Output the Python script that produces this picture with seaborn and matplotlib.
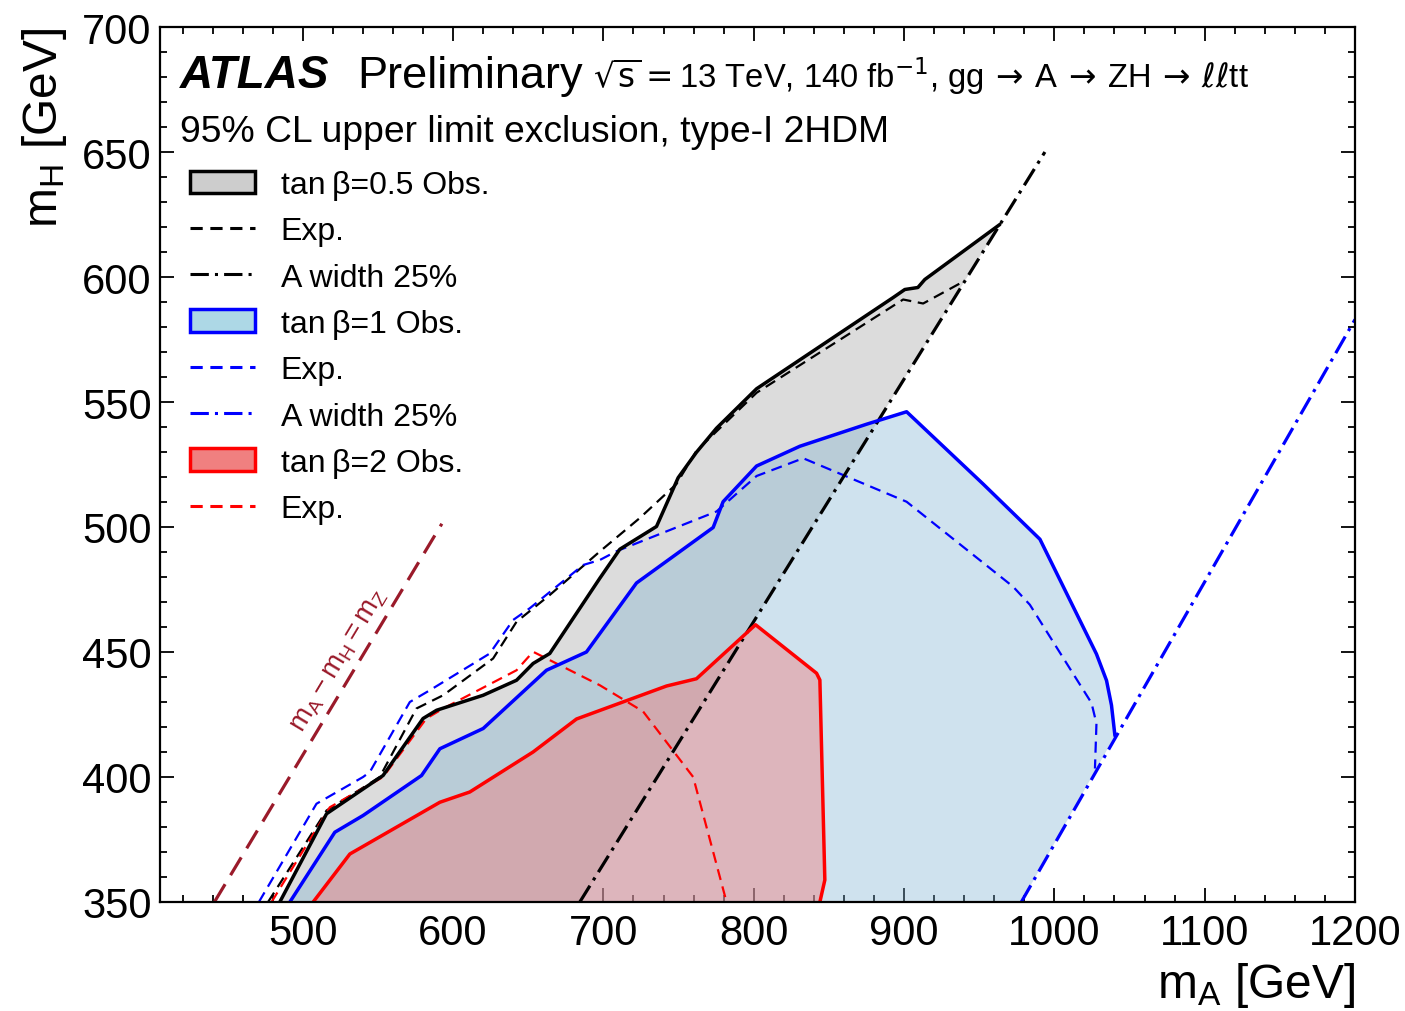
import matplotlib
matplotlib.use("Agg")
import matplotlib.pyplot as plt
import seaborn as sns
from matplotlib.lines import Line2D
from matplotlib.patches import Patch
from matplotlib.ticker import MultipleLocator

# tan(beta)=0.5 : observed upper edge and expected
obs05_mA = [484.7, 515.8, 553.4, 580.0, 589.0, 620.0, 642.2, 653.2, 664.3, 697.6, 710.9, 735.3,
            749.7, 761.9, 775.2, 801.9, 892.8, 900.5, 909.2, 913.8, 963.7]
obs05_mH = [350.0, 385.3, 400.6, 423.4, 426.7, 432.7, 438.7, 445.4, 449.4, 479.5, 491.1, 500.2,
            519.7, 529.9, 539.5, 555.3, 591.8, 595.0, 595.8, 599.0, 621.0]
exp05_mA = [476.9, 515.8, 542.4, 551.2, 575.6, 593.4, 626.6, 642.2, 664.3, 697.6, 724.2, 748.6,
            761.9, 801.9, 899.4, 912.7, 937.1]
exp05_mH = [350.0, 386.6, 396.6, 400.0, 427.4, 432.7, 447.4, 462.1, 472.8, 490.2, 503.6, 517.2,
            530.5, 553.7, 591.0, 589.4, 597.4]
width05_mA = [684.3, 993.7]
width05_mH = [350.0, 650.0]

# tan(beta)=1
obs1_mA = [491.4, 521.3, 540.1, 579.0, 591.2, 620.0, 662.1, 688.7, 722.0, 773.0, 779.6, 801.9,
           830.7, 875.0, 901.7, 952.6, 990.4, 1028.0, 1034.7, 1038.0, 1040.3]
obs1_mH = [350.0, 377.9, 384.6, 400.6, 411.3, 419.4, 442.7, 450.0, 477.6, 499.8, 510.1, 524.4,
           532.3, 541.1, 546.1, 517.2, 495.1, 449.2, 438.6, 428.7, 416.5]
exp1_mA = [470.8, 509.1, 540.1, 544.6, 571.2, 584.5, 624.4, 639.9, 651.0, 686.5, 697.6, 708.7,
           775.2, 801.9, 832.9, 901.7, 972.6, 983.7, 1024.7, 1028.0, 1027.0]
exp1_mH = [350.0, 389.3, 400.0, 402.0, 430.0, 434.7, 449.4, 462.8, 467.5, 484.8, 486.8, 490.3,
           506.2, 520.4, 527.5, 510.1, 476.1, 468.9, 429.6, 421.4, 403.4]
width1_mA = [978.0, 1200.0]
width1_mH = [350.0, 583.0]

# tan(beta)=2
obs2_mA = [506.9, 531.3, 591.2, 611.1, 653.2, 682.1, 742.0, 761.9, 801.2, 841.8, 844.0, 847.3, 844.0]
obs2_mH = [350.0, 369.2, 389.9, 394.0, 410.0, 423.2, 436.4, 439.3, 460.9, 441.5, 438.8, 358.8, 350.0]
exp2_mA = [479.2, 518.0, 553.4, 582.2, 593.4, 642.2, 653.2, 697.6, 726.4, 759.7, 781.9]
exp2_mH = [350.0, 387.9, 400.0, 423.4, 427.4, 442.7, 450.1, 436.7, 426.2, 400.0, 350.0]

# kinematic line mA - mH = mZ
mz_mA = [441.2, 592.5]
mz_mH = [350.0, 501.3]

legend_labels = ["tan\u2009β=0.5 Obs.", "Exp.", "A width 25%",
                 "tan\u2009β=1 Obs.", "Exp.", "A width 25%",
                 "tan\u2009β=2 Obs.", "Exp."]

sns.set_theme(style="ticks")
plt.rcParams["font.family"] = ["Liberation Sans", "DejaVu Sans"]
plt.rcParams["mathtext.fontset"] = "custom"
plt.rcParams["mathtext.rm"] = "Liberation Sans"
plt.rcParams["mathtext.it"] = "Liberation Sans:italic"
plt.rcParams["mathtext.bf"] = "Liberation Sans:bold"
plt.rcParams["text.color"] = "black"
plt.rcParams["axes.labelcolor"] = "black"
plt.rcParams["xtick.color"] = "black"
plt.rcParams["ytick.color"] = "black"

maroon = "#9a1a2a"
dashdot = (0, (6, 2, 1, 2))
fill_gray = "#dcdcdc"
fill_blue = "#7db1d1"
fill_red = "lightcoral"

fig = plt.figure(figsize=(14.05, 10.12), dpi=100)
ax = fig.add_axes([0.11388, 0.10771, 0.85053, 0.86462])

# filled exclusion regions
ax.fill(obs05_mA + [width05_mA[0]], obs05_mH + [width05_mH[0]],
        color=fill_gray, lw=0, zorder=1)
ax.fill(obs1_mA + [width1_mA[0]], obs1_mH + [width1_mH[0]],
        color=fill_blue, alpha=0.37, lw=0, zorder=1)
ax.fill(obs2_mA, obs2_mH, color=fill_red, alpha=0.45, lw=0, zorder=1)

sns.lineplot(x=mz_mA, y=mz_mH, sort=False, estimator=None, color=maroon, lw=2.3,
             linestyle=(0, (6.5, 3.3)), ax=ax)

sns.lineplot(x=exp05_mA, y=exp05_mH, sort=False, estimator=None, color="black", lw=1.6,
             linestyle=(0, (5, 3)), ax=ax)
sns.lineplot(x=exp1_mA, y=exp1_mH, sort=False, estimator=None, color="blue", lw=1.6,
             linestyle=(0, (5, 3)), ax=ax)
sns.lineplot(x=exp2_mA, y=exp2_mH, sort=False, estimator=None, color="red", lw=1.6,
             linestyle=(0, (5, 3)), ax=ax)

sns.lineplot(x=width05_mA, y=width05_mH, sort=False, estimator=None, color="black", lw=2.3,
             linestyle=dashdot, ax=ax)
sns.lineplot(x=width1_mA, y=width1_mH, sort=False, estimator=None, color="blue", lw=2.3,
             linestyle=dashdot, ax=ax)

sns.lineplot(x=obs05_mA, y=obs05_mH, sort=False, estimator=None, color="black", lw=2.5, ax=ax)
sns.lineplot(x=obs1_mA, y=obs1_mH, sort=False, estimator=None, color="blue", lw=2.5, ax=ax)
sns.lineplot(x=obs2_mA, y=obs2_mH, sort=False, estimator=None, color="red", lw=2.5, ax=ax)

ax.text(524, 447, r"$\mathrm{m_{A}-m_{H}=m_{Z}}$", rotation=59, color=maroon, fontsize=20,
        ha="center", va="center", rotation_mode="anchor")

ax.set_xlim(405, 1200)
ax.set_ylim(350, 700)
ax.xaxis.set_major_locator(MultipleLocator(100))
ax.xaxis.set_minor_locator(MultipleLocator(20))
ax.yaxis.set_major_locator(MultipleLocator(50))
ax.yaxis.set_minor_locator(MultipleLocator(10))
ax.tick_params(which="both", direction="in", top=True, right=True, width=1.3, colors="black")
ax.tick_params(which="major", length=10, labelsize=30)
ax.tick_params(which="minor", length=5)
ax.tick_params(axis="x", which="major", pad=8)
ax.tick_params(axis="y", which="major", pad=6)
for sp in ax.spines.values():
    sp.set_linewidth(1.6)
    sp.set_color("black")

ax.set_xlabel(r"m$_{\rm A}$ [GeV]", fontsize=34.5, loc="right")
ax.xaxis.set_label_coords(1.0, -0.066)
ax.set_ylabel(r"m$_{\rm H}$ [GeV]", fontsize=34.5, loc="top")
ax.yaxis.set_label_coords(-0.076, 1.0)

ax.text(0.0167, 0.931, "ATLAS", transform=ax.transAxes, fontsize=33, fontweight="bold",
        fontstyle="italic", va="baseline", ha="left")
ax.text(0.1649, 0.931, "Preliminary", transform=ax.transAxes, fontsize=32.5,
        va="baseline", ha="left")
ax.text(0.362, 0.931,
        r"$\sqrt{\mathrm{s}}=$13 TeV, 140 fb$^{-1}$, gg$\,\rightarrow\,$A$\,\rightarrow\,$ZH$\,\rightarrow\,\ell\ell$tt",
        transform=ax.transAxes, fontsize=23.6, va="baseline", ha="left",
        math_fontfamily="dejavusans")
ax.text(0.0167, 0.870, "95% CL upper limit exclusion, type-I 2HDM", transform=ax.transAxes,
        fontsize=26.8, va="baseline", ha="left")

handles = [
    Patch(facecolor="#cdcdcd", edgecolor="black", linewidth=2.5),
    Line2D([], [], color="black", ls=(0, (4, 2.5)), lw=2.2),
    Line2D([], [], color="black", ls=(0, (6, 2, 1, 2)), lw=2.2),
    Patch(facecolor="lightblue", edgecolor="blue", linewidth=2.5),
    Line2D([], [], color="blue", ls=(0, (4, 2.5)), lw=2.2),
    Line2D([], [], color="blue", ls=(0, (6, 2, 1, 2)), lw=2.2),
    Patch(facecolor="lightcoral", edgecolor="red", linewidth=2.5),
    Line2D([], [], color="red", ls=(0, (4, 2.5)), lw=2.2),
]
ax.legend(handles, legend_labels, loc="upper left", bbox_to_anchor=(0.025, 0.8365),
          frameon=False, borderpad=0, borderaxespad=0, fontsize=23, handlelength=2.04,
          handleheight=0.72, handletextpad=0.8, labelspacing=0.51)

fig.savefig("out.png", dpi=100)
